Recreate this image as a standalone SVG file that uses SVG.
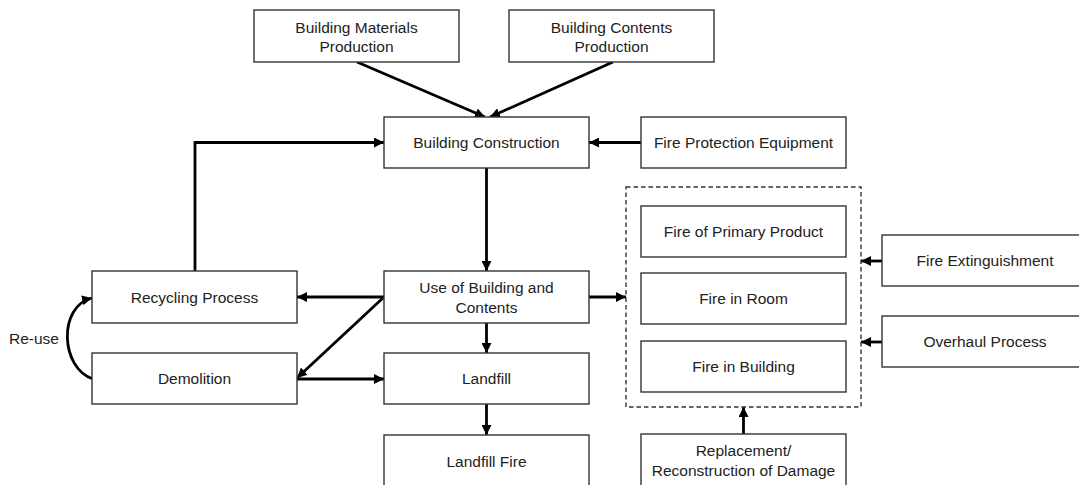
<svg xmlns="http://www.w3.org/2000/svg" width="1079" height="485" viewBox="0 0 1079 485">
<defs>
<marker id="ah" markerUnits="userSpaceOnUse" markerWidth="11" markerHeight="10" refX="10" refY="5" orient="auto">
<path d="M0,0 L10,5 L0,10 z" fill="#000"/>
</marker>
<style>
.box{fill:#fff;stroke:#333;stroke-width:1.4}
.dash{fill:none;stroke:#333;stroke-width:1.4;stroke-dasharray:4.5,3}
.t{font-family:"Liberation Sans",Arial,sans-serif;font-size:15.5px;fill:#222;text-anchor:middle}
.c{fill:none;stroke:#000;stroke-width:2.8;marker-end:url(#ah)}
.cn{fill:none;stroke:#000;stroke-width:2.8}
</style>
</defs>
<rect width="1079" height="485" fill="#fff"/>
<g id="connectors">
<path class="c" d="M357,62 L485,117"/>
<path class="c" d="M613,62 L490,117"/>
<path class="c" d="M641,142.5 L589,142.5"/>
<path class="c" d="M486.5,168 L486.5,271"/>
<path class="c" d="M195,271 V142.5 H384"/>
<path class="c" d="M384,297 H297"/>
<path class="c" d="M384,297 L297,378"/>
<path class="c" d="M297,379 H384"/>
<path class="c" d="M486.5,323 V353"/>
<path class="c" d="M486.5,404 V435"/>
<path class="c" d="M589,297 H626"/>
<path class="c" d="M882,261 H861"/>
<path class="c" d="M882,342 H861"/>
<path class="c" d="M743.5,434 V407"/>
<path class="c" d="M93,379 C60,368 58,306 92,298"/>
</g>
<g id="reuse-label"><text class="t" x="34" y="343.5">Re-use</text></g>
<g id="n-bmp"><rect class="box" x="254" y="10" width="205" height="52"/><text class="t" x="356.5" y="32.5">Building Materials</text><text class="t" x="356.5" y="51.5">Production</text></g>
<g id="n-bcp"><rect class="box" x="509" y="10" width="205" height="52"/><text class="t" x="611.5" y="32.5">Building Contents</text><text class="t" x="611.5" y="51.5">Production</text></g>
<g id="n-bc"><rect class="box" x="384" y="117" width="205" height="51"/><text class="t" x="486.5" y="148">Building Construction</text></g>
<g id="n-fpe"><rect class="box" x="641" y="117" width="205" height="51"/><text class="t" x="743.5" y="148">Fire Protection Equipment</text></g>
<g id="n-rec"><rect class="box" x="92" y="271" width="205" height="52"/><text class="t" x="194.5" y="302.5">Recycling Process</text></g>
<g id="n-use"><rect class="box" x="384" y="271" width="205" height="52"/><text class="t" x="486.5" y="292.5">Use of Building and</text><text class="t" x="486.5" y="313">Contents</text></g>
<g id="n-dem"><rect class="box" x="92" y="353" width="205" height="51"/><text class="t" x="194.5" y="384">Demolition</text></g>
<g id="n-landfill"><rect class="box" x="384" y="353" width="205" height="51"/><text class="t" x="486.5" y="384">Landfill</text></g>
<g id="n-lffire"><rect class="box" x="384" y="435" width="205" height="52"/><text class="t" x="486.5" y="467">Landfill Fire</text></g>
<g id="n-fire-group"><rect class="dash" x="626" y="187" width="235" height="220"/></g>
<g id="n-fpp"><rect class="box" x="641" y="206" width="205" height="51"/><text class="t" x="743.5" y="237">Fire of Primary Product</text></g>
<g id="n-fir"><rect class="box" x="641" y="273" width="205" height="51"/><text class="t" x="743.5" y="304">Fire in Room</text></g>
<g id="n-fib"><rect class="box" x="641" y="341" width="205" height="51"/><text class="t" x="743.5" y="372">Fire in Building</text></g>
<g id="n-fe"><rect class="box" x="882" y="235" width="206" height="51"/><text class="t" x="985" y="266">Fire Extinguishment</text></g>
<g id="n-op"><rect class="box" x="882" y="316" width="206" height="51"/><text class="t" x="985" y="347">Overhaul Process</text></g>
<g id="n-rep"><rect class="box" x="641" y="434" width="205" height="53"/><text class="t" x="743.5" y="455.5">Replacement/</text><text class="t" x="743.5" y="475.5">Reconstruction of Damage</text></g>
</svg>
